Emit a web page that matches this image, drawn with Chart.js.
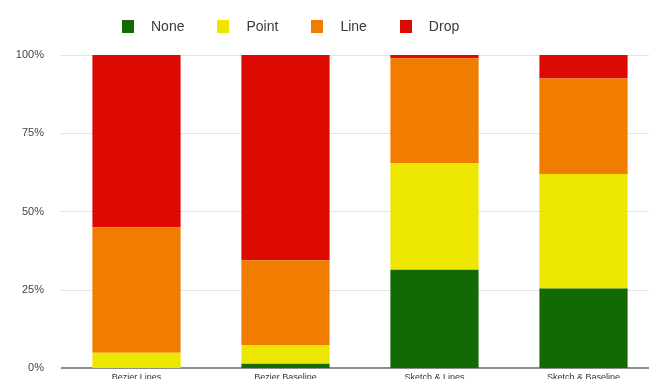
<!DOCTYPE html>
<html>
<head>
<meta charset="utf-8">
<script src="https://cdn.jsdelivr.net/npm/chart.js@4"></script>
<style>
  html, body { margin: 0; padding: 0; background: #fff; overflow: hidden; }
  #wrap { position: relative; width: 658px; height: 391px; }
  #legend { position: absolute; left: 122px; top: 18px; display: flex; align-items: center;
            font: 14px "Liberation Sans", Arial, sans-serif; color: #3a3a3a; }
  #legend .item { display: flex; align-items: center; margin-right: 33px; }
  #legend .box { width: 12px; height: 13px; margin-right: 17px; }
</style>
</head>
<body>
<div id="wrap">
  <canvas id="chart" width="658" height="391"></canvas>
  <div id="legend"></div>
</div>
<script>
// --- Data ---
const categories = ['Bezier Lines', 'Bezier Baseline', 'Sketch & Lines', 'Sketch & Baseline'];
const seriesNames = ['None', 'Point', 'Line', 'Drop'];
const seriesColors = ['#136a05', '#ece600', '#f07c00', '#dc0a00'];
const noneVals  = [0, 1.5, 31.5, 25.5];
const pointVals = [5, 6, 34, 36.5];
const lineVals  = [40, 27, 33.5, 30.5];
const dropVals  = [55, 65.5, 1, 7.5];
const yTicks = [0, 25, 50, 75, 100];

const seriesVals = [noneVals, pointVals, lineVals, dropVals];

// --- Legend (HTML) ---
const legendEl = document.getElementById('legend');
seriesNames.forEach((name, i) => {
    const item = document.createElement('div');
    item.className = 'item';
    item.innerHTML = `<span class="box" style="background:${seriesColors[i]}"></span><span>${name}</span>`;
    legendEl.appendChild(item);
});

// --- Chart ---
// canvas is a bit taller than the window so the category labels get clipped at the bottom edge
const ctx = document.getElementById('chart').getContext('2d');
new Chart(ctx, {
    type: 'bar',
    data: {
        labels: categories,
        datasets: seriesNames.map((name, i) => ({
            label: name,
            data: seriesVals[i],
            backgroundColor: seriesColors[i],
            borderWidth: 0,
            categoryPercentage: 1,
            barPercentage: 0.592
        }))
    },
    options: {
        responsive: false,
        animation: false,
        layout: { padding: { top: 55, left: 0, right: 0, bottom: 0 } },
        plugins: { legend: { display: false }, tooltip: { enabled: false } },
        scales: {
            x: {
                stacked: true,
                afterFit: (s) => { s.height = 12; },
                grid: { display: false, drawTicks: false },
                border: { display: true, color: '#8c8c8c', width: 2 },
                ticks: { padding: 4, color: '#333', font: { family: 'Liberation Sans', size: 9 } }
            },
            y: {
                stacked: true,
                min: 0,
                max: 100,
                afterFit: (s) => { s.width = 62; },
                afterBuildTicks: (s) => { s.ticks = yTicks.map(v => ({ value: v })); },
                grid: { color: '#e4e4e4', lineWidth: 1, tickLength: 2 },
                border: { display: false },
                ticks: {
                    padding: 16,
                    color: '#444',
                    font: { family: 'Liberation Sans', size: 11 },
                    callback: (v) => v + '%'
                }
            }
        }
    }
});
</script>
</body>
</html>
